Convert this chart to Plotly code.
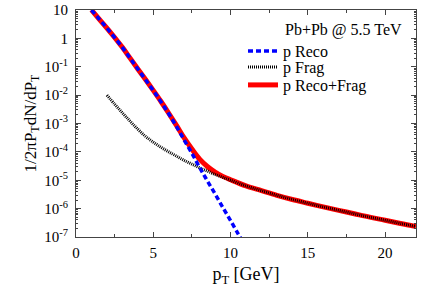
import plotly.graph_objects as go

# p Reco
reco_x = [1.0, 1.5, 2.0, 2.5, 3.0, 3.5, 4.0, 4.5, 5.0, 5.5, 6.0, 6.5, 7.0, 7.5, 8.0, 8.5, 9.0, 9.5, 10.0, 10.5, 10.7]
reco_y = [10.0, 4.8, 2.3, 1.07, 0.48, 0.20, 0.083, 0.035, 0.0145, 5.8e-3, 2.2e-3, 7.9e-4, 2.6e-4, 8.9e-5, 2.8e-5,
          9.5e-6, 3.3e-6, 1.1e-6, 3.8e-7, 1.26e-7, 8.3e-8]

# p Frag
frag_x = [2.0, 2.5, 3.0, 3.5, 4.0, 4.5, 5.0, 5.5, 6.0, 6.5, 7.0, 7.5, 8.0, 8.5, 9.0, 9.5, 10.0, 11.0, 12.0, 13.0,
          14.0, 15.0, 16.0, 17.0, 18.0, 19.0, 20.0, 21.0, 22.0]
frag_y = [1.0e-2, 4.8e-3, 2.4e-3, 1.2e-3, 6.3e-4, 3.5e-4, 2.2e-4, 1.45e-4, 1.0e-4, 7.1e-5, 5.0e-5, 3.7e-5, 2.75e-5,
          2.1e-5, 1.6e-5, 1.26e-5, 1.0e-5, 6.3e-6, 4.3e-6, 2.95e-6, 2.1e-6, 1.55e-6, 1.15e-6, 8.7e-7, 6.6e-7,
          5.0e-7, 3.9e-7, 3.0e-7, 2.35e-7]

# p Reco+Frag
tot_x = [1.0, 1.5, 2.0, 2.5, 3.0, 3.5, 4.0, 4.5, 5.0, 5.5, 6.0, 6.5, 7.0, 7.5, 8.0, 8.5, 9.0, 9.5, 10.0, 11.0,
         12.0, 13.0, 14.0, 15.0, 16.0, 17.0, 18.0, 19.0, 20.0, 21.0, 22.0]
tot_y = [10.0, 4.8, 2.31, 1.075, 0.482, 0.201, 0.0836, 0.0353, 0.0147, 5.95e-3, 2.3e-3, 8.6e-4, 3.1e-4, 1.26e-4,
         5.55e-5, 3.05e-5, 1.93e-5, 1.37e-5, 1.04e-5, 6.3e-6, 4.3e-6, 2.95e-6, 2.1e-6, 1.55e-6, 1.15e-6, 8.7e-7,
         6.6e-7, 5.0e-7, 3.9e-7, 3.0e-7, 2.35e-7]

x_ticks = [0, 5, 10, 15, 20]
y_tickvals = [10, 1, 1e-1, 1e-2, 1e-3, 1e-4, 1e-5, 1e-6, 1e-7]
y_ticktext = ["10", "1", "10<sup>-1</sup>", "10<sup>-2</sup>", "10<sup>-3</sup>", "10<sup>-4</sup>",
              "10<sup>-5</sup>", "10<sup>-6</sup>", "10<sup>-7</sup>"]

FONT = "Liberation Serif"
W, H = 436, 295
L, R, T, B = 76, 20, 10, 58
PW, PH = W - L - R, H - T - B


def px_x(sx):
    return (sx - L) / PW


def px_y(sy):
    return 1 - (sy - T) / PH


def leg(sy):
    return dict(x=px_x(243), y=px_y(sy), xanchor="left", yanchor="middle",
                bgcolor="rgba(0,0,0,0)", font=dict(size=16), itemwidth=30)


fig = go.Figure()
fig.add_trace(go.Scatter(x=tot_x, y=tot_y, mode="lines", name="p Reco+Frag", legend="legend3",
                         line=dict(color="#ff0000", width=5, shape="spline")))
fig.add_trace(go.Scatter(x=frag_x, y=frag_y, mode="lines", name="p Frag", legend="legend2",
                         line=dict(color="#000000", width=3, dash="1px,1px", shape="spline")))
fig.add_trace(go.Scatter(x=reco_x, y=reco_y, mode="lines", name="p Reco", legend="legend",
                         line=dict(color="#0000ff", width=3.5, dash="5px,3px", shape="spline")))

fig.update_layout(
    width=W, height=H,
    margin=dict(l=L, r=R, t=T, b=B, autoexpand=False),
    paper_bgcolor="white", plot_bgcolor="white",
    font=dict(family=FONT, size=15, color="black"),
    showlegend=True,
    legend=leg(51), legend2=leg(67), legend3=leg(85),
    xaxis=dict(range=[0, 22], tickvals=x_ticks, ticks="inside", ticklen=5, mirror="allticks",
               showline=True, linecolor="#444", linewidth=1, showgrid=False, zeroline=False,
               automargin=False, ticklabelstandoff=2,
               minor=dict(ticks="inside", ticklen=3, dtick=2.5, showgrid=False),
               title=dict(text="p<sub>T</sub> [GeV]", font=dict(size=18), standoff=7)),
    yaxis=dict(type="log", range=[-7, 1], tickvals=y_tickvals, ticktext=y_ticktext, ticks="inside",
               ticklen=5, mirror="allticks", showline=True, linecolor="#444", linewidth=1,
               showgrid=False, zeroline=False, automargin=False, ticklabelstandoff=4,
               minor=dict(ticks="inside", ticklen=2, dtick="D1", showgrid=False),
               title=dict(text="1/2πP<sub>T</sub>dN/dP<sub>T</sub>", font=dict(size=17), standoff=3)),
    annotations=[dict(text="Pb+Pb @ 5.5 TeV", x=px_x(283), y=px_y(30), xref="paper",
                      yref="paper", xanchor="left", yanchor="middle", showarrow=False, font=dict(size=16))],
)

fig.write_html("out.html", config={"displayModeBar": False},
               post_script="document.body.style.margin='0px';")
